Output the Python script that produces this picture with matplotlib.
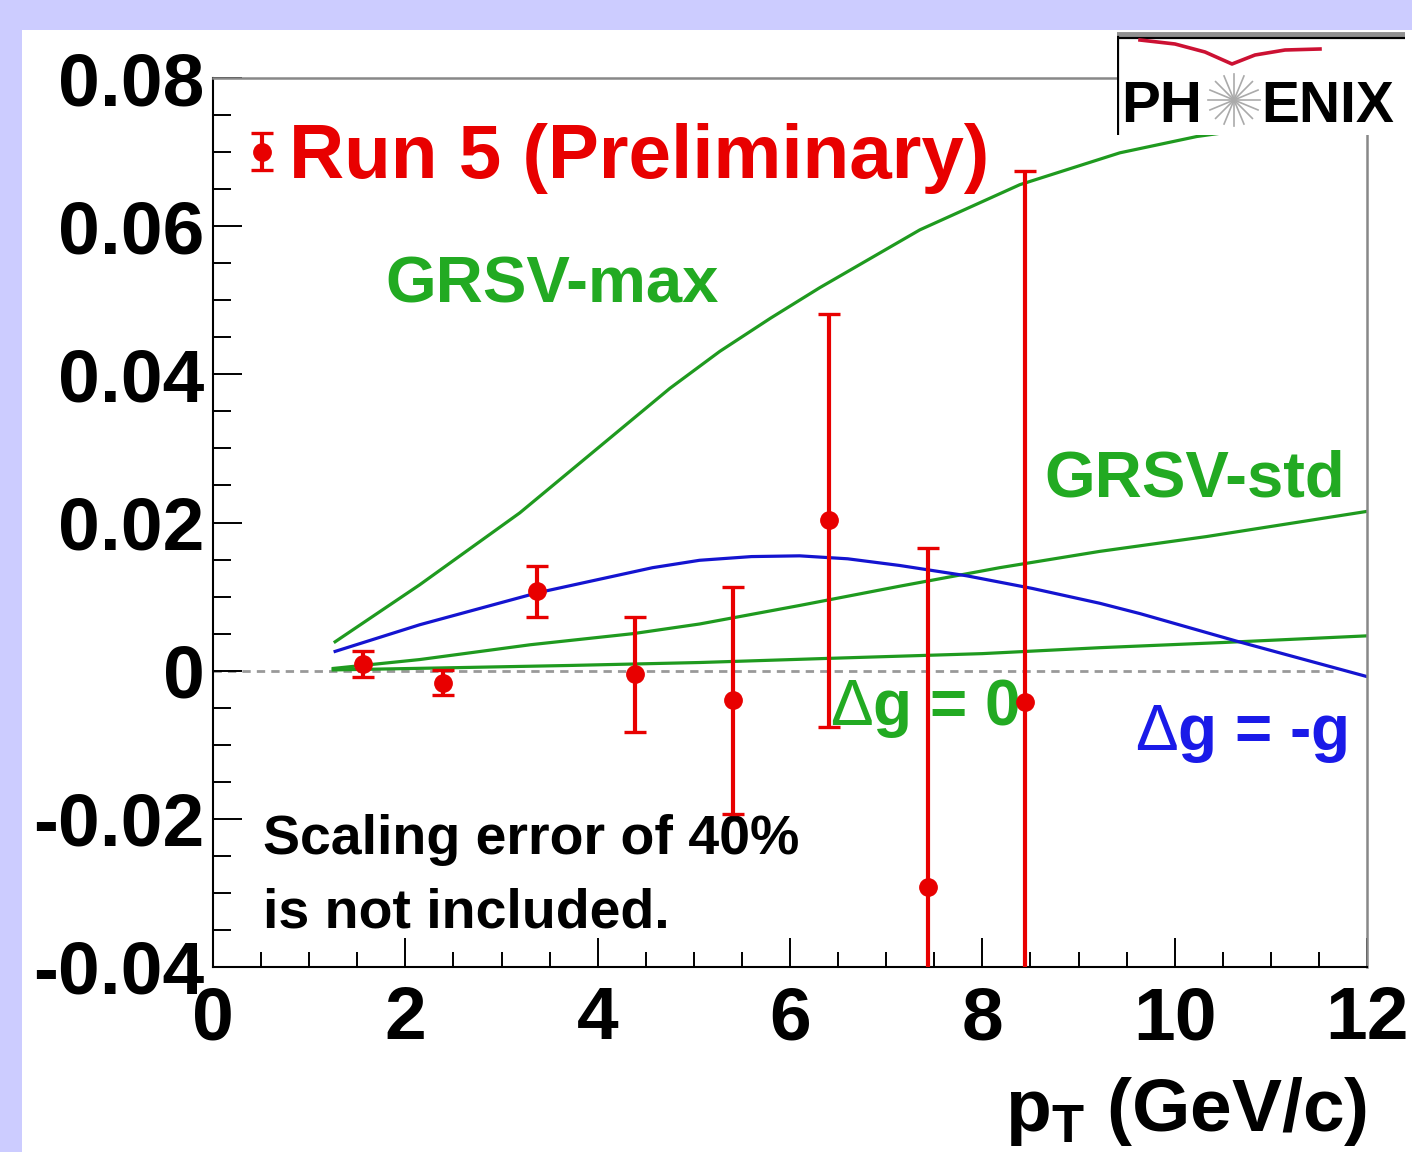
import numpy as np
import matplotlib
matplotlib.use("Agg")
import matplotlib.pyplot as plt
from matplotlib.patches import Rectangle
from matplotlib.ticker import MultipleLocator
from matplotlib.legend_handler import HandlerErrorbar

plt.rcParams['font.family'] = ['Liberation Sans', 'DejaVu Sans']
plt.rcParams['font.weight'] = 'bold'
plt.rcParams['mathtext.fontset'] = 'custom'
plt.rcParams['mathtext.bf'] = 'Liberation Sans:weight=bold'
plt.rcParams['mathtext.rm'] = 'Liberation Sans:weight=normal'
plt.rcParams['mathtext.default'] = 'rm'

# Run 5 preliminary data points (pT, A_LL, stat error)
pt_data = [1.56, 2.39, 3.37, 4.39, 5.41, 6.41, 7.43, 8.44]
all_data = [0.0009, -0.0016, 0.0107, -0.0005, -0.0040, 0.0203, -0.0292, -0.0042]
err_data = [0.0017, 0.0017, 0.0034, 0.0078, 0.0153, 0.0279, 0.0458, 0.0716]

# theory curves
pt_max = [1.27, 2.15, 3.19, 4.23, 4.75, 5.27, 5.8, 6.31, 7.35, 8.39, 9.43, 10.23, 11.0, 12.0]
all_max = [0.0039, 0.0116, 0.0213, 0.0325, 0.0381, 0.0431, 0.0476, 0.0517, 0.0595, 0.0656, 0.0699, 0.0721, 0.0735, 0.0745]

pt_std = [1.25, 2.15, 3.3, 4.37, 5.06, 6.1, 7.14, 8.18, 9.22, 10.33, 12.0]
all_std = [0.0003, 0.0015, 0.0035, 0.0050, 0.0063, 0.0088, 0.0114, 0.0139, 0.0161, 0.0181, 0.0215]

pt_zero = [1.25, 2.5, 3.7, 5.06, 6.5, 8.0, 9.22, 10.5, 12.0]
all_zero = [0.0001, 0.0004, 0.0007, 0.0011, 0.0017, 0.0023, 0.0031, 0.0038, 0.0047]

pt_neg = [1.27, 2.15, 3.37, 4.57, 5.06, 5.6, 6.1, 6.6, 7.14, 7.84, 8.52, 9.22, 9.64, 10.64, 12.0]
all_neg = [0.0026, 0.0062, 0.0105, 0.0139, 0.0149, 0.0154, 0.0155, 0.0151, 0.0142, 0.0128, 0.0111, 0.0091, 0.0077, 0.0040, -0.0008]

xticks = [0, 2, 4, 6, 8, 10, 12]
xticklabels = ['0', '2', '4', '6', '8', '10', '12']
yticks = [-0.04, -0.02, 0, 0.02, 0.04, 0.06, 0.08]
yticklabels = ['-0.04', '-0.02', '0', '0.02', '0.04', '0.06', '0.08']

red = '#e80000'
green = '#1f9a1f'
green_txt = '#22aa22'
blue = '#1414d0'
blue_txt = '#1a1ae8'

fig = plt.figure(figsize=(14.12, 11.52), dpi=100)
fig.patch.set_facecolor('#ccccff')
fig.patches.append(Rectangle((22/1412, 0), 1, 1 - 30/1152, transform=fig.transFigure,
                             facecolor='white', edgecolor='none', zorder=-5))

ax = fig.add_axes([213/1412, 1 - 967/1152, (1367-213)/1412, (967-78)/1152])
ax.set_facecolor('none')
ax.set_xlim(0, 12)
ax.set_ylim(-0.04, 0.08)

# zero line
ax.plot([0, 11.65], [0, 0], color='#999999', lw=2.0, ls=(0, (3, 2.2)), zorder=1)

# theory
ax.plot(pt_max, all_max, color=green, lw=2.3, zorder=2)
ax.plot(pt_std, all_std, color=green, lw=2.3, zorder=2)
ax.plot(pt_zero, all_zero, color=green, lw=2.3, zorder=2)
ax.plot(pt_neg, all_neg, color=blue, lw=2.3, zorder=2)

# data
eb = ax.errorbar(pt_data, all_data, yerr=err_data, fmt='o', color=red, ms=12.5,
                 elinewidth=3.0, capsize=8, capthick=2.4, zorder=4,
                 label='Run 5 (Preliminary)')

leg = ax.legend(handles=[eb], loc='center left', bbox_to_anchor=(0.0325, 0.909),
                frameon=False, borderpad=0, borderaxespad=0, handlelength=0.3,
                handletextpad=0.2, labelcolor=red,
                prop={'weight': 'bold', 'size': 55},
                handler_map={type(eb): HandlerErrorbar(yerr_size=0.24)})

ax.text(1.79, 0.0497, 'GRSV-max', color=green_txt, fontsize=47, fontweight='bold')
ax.text(8.65, 0.0235, 'GRSV-std', color=green_txt, fontsize=47, fontweight='bold')
ax.text(6.42, -0.0073, r'$\Delta$g = 0', color=green_txt, fontsize=46, fontweight='bold')
ax.text(9.59, -0.0107, r'$\Delta$g = -g', color=blue_txt, fontsize=46, fontweight='bold')
ax.text(0.52, -0.0248, 'Scaling error of 40%', color='black', fontsize=40, fontweight='bold')
ax.text(0.52, -0.0347, 'is not included.', color='black', fontsize=40, fontweight='bold')

# axes style
for s in ['left', 'bottom']:
    ax.spines[s].set_color('black')
    ax.spines[s].set_linewidth(1.5)
for s in ['top', 'right']:
    ax.spines[s].set_color('#888888')
    ax.spines[s].set_linewidth(1.8)

ax.set_xticks(xticks)
ax.set_xticklabels(xticklabels)
ax.set_yticks(yticks)
ax.set_yticklabels(yticklabels)
ax.xaxis.set_minor_locator(MultipleLocator(0.5))
ax.yaxis.set_minor_locator(MultipleLocator(0.005))
ax.tick_params(axis='both', which='both', direction='in', top=False, right=False, width=1.4)
ax.tick_params(axis='x', which='major', length=21, pad=13, labelsize=54)
ax.tick_params(axis='x', which='minor', length=11)
ax.tick_params(axis='y', which='major', length=21, pad=6, labelsize=54)
ax.tick_params(axis='y', which='minor', length=13)
for lab in ax.get_xticklabels() + ax.get_yticklabels():
    lab.set_fontweight('bold')

ax.set_xlabel(r'$\mathbf{p_{T}}$ (GeV/c)', fontsize=54, fontweight='bold', ha='right', va='top')
ax.xaxis.set_label_coords(1.0, -0.121)

# PHENIX logo
lg = fig.add_axes([1117/1412, 1 - 135/1152, (1405-1117)/1412, (135-31)/1152])
lg.set_xlim(1117, 1405)
lg.set_ylim(135, 31)
lg.axis('off')
lg.add_patch(Rectangle((1117, 31), 288, 104, facecolor='white', edgecolor='none'))
lg.plot([1117, 1405], [33.5, 33.5], color='#909090', lw=3.5)
lg.plot([1117, 1405], [37.5, 37.5], color='black', lw=1.6)
lg.plot([1118, 1118], [37, 135], color='black', lw=1.6)
lg.plot([1140, 1175, 1205, 1232, 1255, 1285, 1320], [40, 44, 52, 64, 55, 50, 49],
        color='#cc1133', lw=2.6)
ang = np.linspace(0, np.pi, 9)[:-1]
for a in ang:
    lg.plot([1234 - 26*np.cos(a), 1234 + 26*np.cos(a)],
            [100 - 26*np.sin(a), 100 + 26*np.sin(a)], color='#aaaaaa', lw=1.2)
lg.text(1121, 122, 'PH', fontsize=42, fontweight='bold', color='black', va='baseline')
lg.text(1261, 122, 'ENIX', fontsize=41, fontweight='bold', color='black', va='baseline')

fig.savefig('out.png', dpi=100, facecolor=fig.get_facecolor())
